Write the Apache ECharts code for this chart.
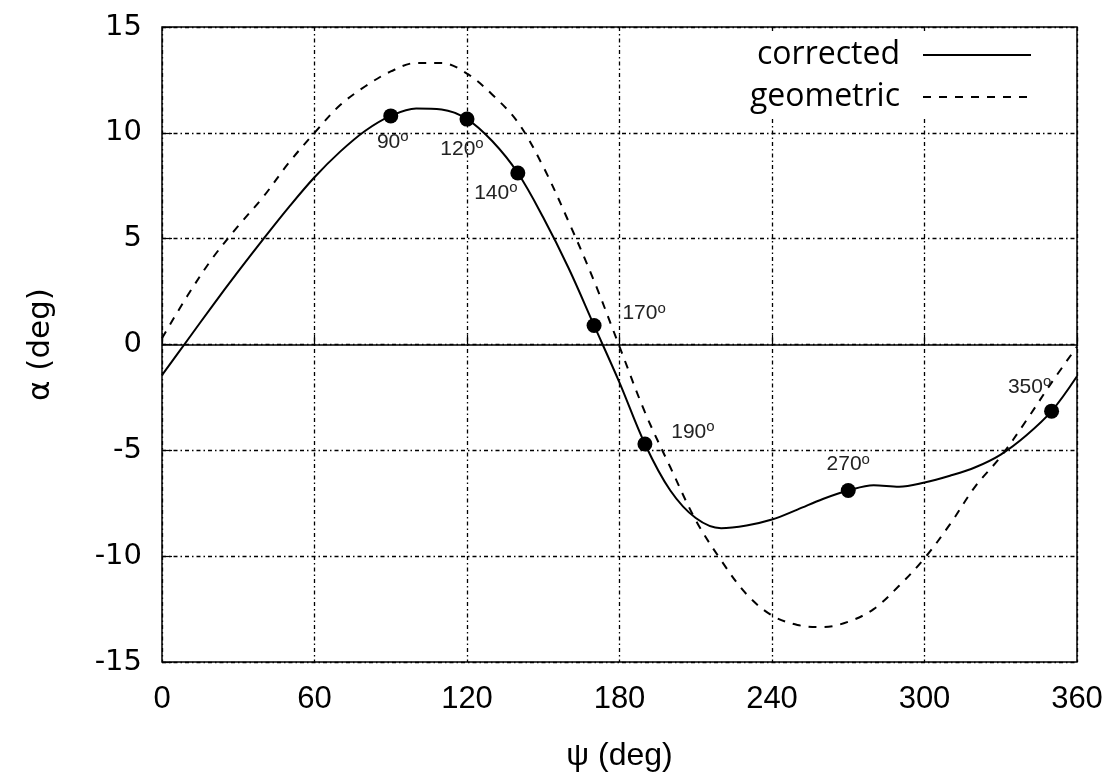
<!DOCTYPE html>
<html><head><meta charset="utf-8">
<script src="https://cdn.jsdelivr.net/npm/echarts@6/dist/echarts.min.js"></script>
<style>html,body{margin:0;padding:0;background:#fff}#c{width:1120px;height:782px}</style>
</head><body><div id="c"></div>
<script>
const psi = [0,10,20,30,40,50,60,70,80,90,100,110,120,130,140,150,160,170,180,190,200,210,220,230,240,250,260,270,280,290,300,310,320,330,340,350,360];
const corrected = [-1.45,0.2,1.85,3.45,5.0,6.5,7.9,9.1,10.1,10.8,11.15,11.1,10.65,9.6,8.1,6.0,3.6,0.9,-1.8,-4.7,-6.9,-8.2,-8.68,-8.55,-8.27,-7.8,-7.3,-6.9,-6.65,-6.72,-6.52,-6.2,-5.8,-5.2,-4.3,-3.15,-1.5];
const geometric = [0.3,2.3,4.1,5.6,7.0,8.6,10.0,11.3,12.2,12.9,13.3,13.3,12.8,11.8,10.5,8.4,5.8,3.0,-0.1,-3.2,-5.8,-8.3,-10.2,-11.8,-12.8,-13.25,-13.35,-13.1,-12.5,-11.4,-10.1,-8.5,-6.7,-5.3,-3.6,-1.8,-0.1];
const markPsi = [90,120,140,170,190,270,350];
const markAlpha = [10.8,10.65,8.1,0.9,-4.7,-6.9,-3.15];
const markLabels = ['90','120','140','170','190','270','350'];
const markPos = [[2,26],[-5,30],[-22,20],[50,-12],[48,-12],[0,-26],[-22,-24]];
const seriesNames = ['corrected','geometric'];
const xTicks = [0,60,120,180,240,300,360];
const yTicks = [-15,-10,-5,0,5,10,15];

const chart = echarts.init(document.getElementById('c'));
const gridLine = {show:true,lineStyle:{color:'#000',width:1.3,type:[4,3,1.5,3]}};
const fontY = 'DejaVu Sans, sans-serif';
const fontX = 'Liberation Sans Narrow, Liberation Sans, sans-serif';
chart.setOption({
  animation:false,
  backgroundColor:'#fff',
  grid:{left:162,right:43,top:27,bottom:120,show:true,borderColor:'#000',borderWidth:1.5,backgroundColor:'transparent'},
  legend:{
    orient:'vertical',right:83,top:34,align:'right',itemWidth:108,itemHeight:14,itemGap:10,
    textStyle:{fontSize:32,color:'#000',fontFamily:'Open Sans, sans-serif',padding:[0,18,0,0]},
    data:[seriesNames[0],seriesNames[1]],
    itemStyle:{color:'rgba(0,0,0,0)',borderWidth:0},
    backgroundColor:'#fff'
  },
  xAxis:{type:'value',min:0,max:360,interval:60,
    axisLine:{show:false},
    axisTick:{show:true,inside:true,length:10,lineStyle:{color:'#000',width:1.2}},
    splitLine:gridLine,
    axisLabel:{fontSize:31,color:'#000',fontFamily:fontX,margin:22,
      formatter:v=>xTicks.includes(v)?String(v):''},
    name:'ψ (deg)',nameLocation:'middle',nameGap:78,
    nameTextStyle:{fontSize:32,color:'#000',fontFamily:fontX}
  },
  yAxis:{type:'value',min:-15,max:15,interval:5,
    axisLine:{show:false},
    axisTick:{show:true,inside:true,length:10,lineStyle:{color:'#000',width:1.2}},
    splitLine:gridLine,
    axisLabel:{fontSize:29,color:'#000',fontFamily:fontY,margin:20,
      formatter:v=>yTicks.includes(v)?String(v):''},
    name:'α (deg)',nameLocation:'middle',nameGap:106,
    nameTextStyle:{fontSize:31,color:'#000',fontFamily:fontY}
  },
  series:[
    {name:seriesNames[0],type:'line',smooth:0.35,symbol:'none',
      data:psi.map((p,i)=>[p,corrected[i]]),
      lineStyle:{color:'#000',width:2},itemStyle:{color:'#000'},z:5,
      markLine:{silent:true,symbol:'none',label:{show:false},
        lineStyle:{color:'#000',width:1.5,type:'solid'},data:[{yAxis:0}]}},
    {name:seriesNames[1],type:'line',smooth:0.35,symbol:'none',
      data:psi.map((p,i)=>[p,geometric[i]]),
      lineStyle:{color:'#000',width:2,type:[8,8]},itemStyle:{color:'#000'},z:4},
    {name:'points',type:'scatter',symbol:'circle',symbolSize:15,z:10,
      itemStyle:{color:'#000',opacity:1},
      data:markPsi.map((p,i)=>({value:[p,markAlpha[i]],
        label:{show:true,position:'inside',offset:markPos[i],
          formatter:markLabels[i]+'{s|o}',
          rich:{s:{fontSize:15,verticalAlign:'top',padding:[0,0,10,0],color:'#222'}},
          fontSize:21,color:'#222',fontFamily:fontX}}))}
  ]
});
</script></body></html>
